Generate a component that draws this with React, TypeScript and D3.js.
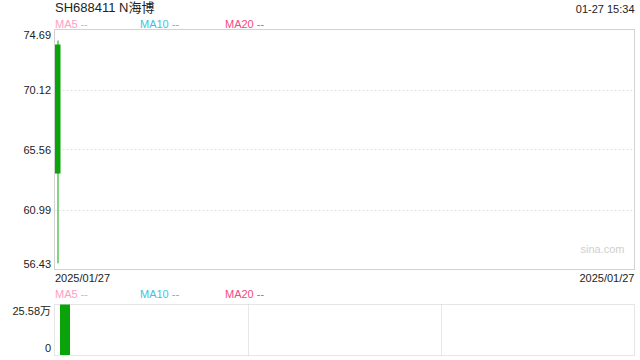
import React from "react";
import * as d3 from "d3";

const title = "SH688411 N海博";
const timeLabel = "01-27 15:34";
const dates = ["2025/01/27"];
const opens = [73.55];
const highs = [73.85];
const lows = [56.9];
const closes = [63.73];
const volumes = [25.58]; // 万
const priceTicks = [74.69, 70.12, 65.56, 60.99, 56.43];
const volTickLabels = ["25.58万", "0"];
const maLegend = [
  { name: "MA5 --", color: "#ff9ebf" },
  { name: "MA10 --", color: "#3cc4dd" },
  { name: "MA20 --", color: "#f5487f" },
];

const W = 640;
const H = 360;
const L = 54.5;
const R = 634.5;
const mainTop = 29.5;
const mainBot = 269.5;
const volTop = 304.5;
const volBot = 355.5;
const font = "Arial, 'Liberation Sans', 'Noto Sans CJK SC', sans-serif";

export default function App() {
  const y = d3.scaleLinear().domain([56.43, 74.69]).range([mainBot, mainTop]);
  const x = d3.scaleBand<string>().domain(dates).range([L, L + 7]).paddingInner(0);
  const xv = d3.scaleBand<string>().domain(dates).range([L + 5.5, L + 15.5]);
  const yv = d3.scaleLinear().domain([0, 25.58]).range([volBot, volTop]);
  const legendX = [L + 0.5, L + 85.5, L + 170.5];
  const vLines = [L + (R - L) / 3, L + (2 * (R - L)) / 3];

  return (
    <svg width={W} height={H} style={{ position: "absolute", left: 0, top: 0, background: "#fff" }} fontFamily={font}>
      <text x={55} y={12} fontSize={13} fill="#222">{title}</text>
      <text x={R} y={13} fontSize={11} fill="#222" textAnchor="end">{timeLabel}</text>
      {maLegend.map((m, i) => (
        <text key={"l" + i} x={legendX[i]} y={28} fontSize={11} fill={m.color}>{m.name}</text>
      ))}
      {priceTicks.slice(1, -1).map((t, i) => (
        <line key={"g" + i} x1={L} x2={R} y1={Math.round(y(t)) + 0.5} y2={Math.round(y(t)) + 0.5} stroke="#e3e3e3" strokeDasharray="2 2" />
      ))}
      <rect x={L} y={mainTop} width={R - L} height={mainBot - mainTop} fill="none" stroke="#d2d2d2" />
      {priceTicks.map((t, i) => {
        let yy = y(t) + 4;
        if (i === 0) yy = y(t) + 9;
        if (i === priceTicks.length - 1) yy = y(t) - 2;
        return (
          <text key={"p" + i} x={51} y={yy} fontSize={11} fill="#222" textAnchor="end">{t.toFixed(2)}</text>
        );
      })}
      <text x={R - 10} y={253} fontSize={11} fill="#cfcfcf" textAnchor="end">sina.com</text>
      {dates.map((d, i) => {
        const bx = x(d)!;
        const bw = x.bandwidth() - 1;
        const up = closes[i] >= opens[i];
        const col = up ? "#f12b2b" : "#0aa40a";
        const top = y(Math.max(opens[i], closes[i]));
        const bot = y(Math.min(opens[i], closes[i]));
        return (
          <g key={"c" + i}>
            <line x1={bx + 3.5} x2={bx + 3.5} y1={y(highs[i])} y2={y(lows[i])} stroke={col} />
            <rect x={bx + 0.5} y={top} width={bw - 0.5} height={bot - top} fill={col} />
          </g>
        );
      })}
      <text x={55} y={282} fontSize={11} fill="#222">{dates[0]}</text>
      <text x={R} y={282} fontSize={11} fill="#222" textAnchor="end">{dates[dates.length - 1]}</text>
      {maLegend.map((m, i) => (
        <text key={"lv" + i} x={legendX[i]} y={298} fontSize={11} fill={m.color}>{m.name}</text>
      ))}
      {vLines.map((vx, i) => (
        <line key={"v" + i} x1={Math.round(vx) + 0.5} x2={Math.round(vx) + 0.5} y1={volTop} y2={volBot} stroke="#d0d0d0" strokeDasharray="1 1" />
      ))}
      <rect x={L} y={volTop} width={R - L} height={volBot - volTop} fill="none" stroke="#cccccc" strokeDasharray="1 1" />
      {dates.map((d, i) => {
        const col = closes[i] >= opens[i] ? "#f12b2b" : "#0aa40a";
        return (
          <rect key={"vb" + i} x={xv(d)!} y={yv(volumes[i])} width={xv.bandwidth()} height={volBot - yv(volumes[i]) - 0.5} fill={col} />
        );
      })}
      <text x={51} y={315} fontSize={11} fill="#222" textAnchor="end">{volTickLabels[0]}</text>
      <text x={51} y={352} fontSize={11} fill="#222" textAnchor="end">{volTickLabels[1]}</text>
    </svg>
  );
}
